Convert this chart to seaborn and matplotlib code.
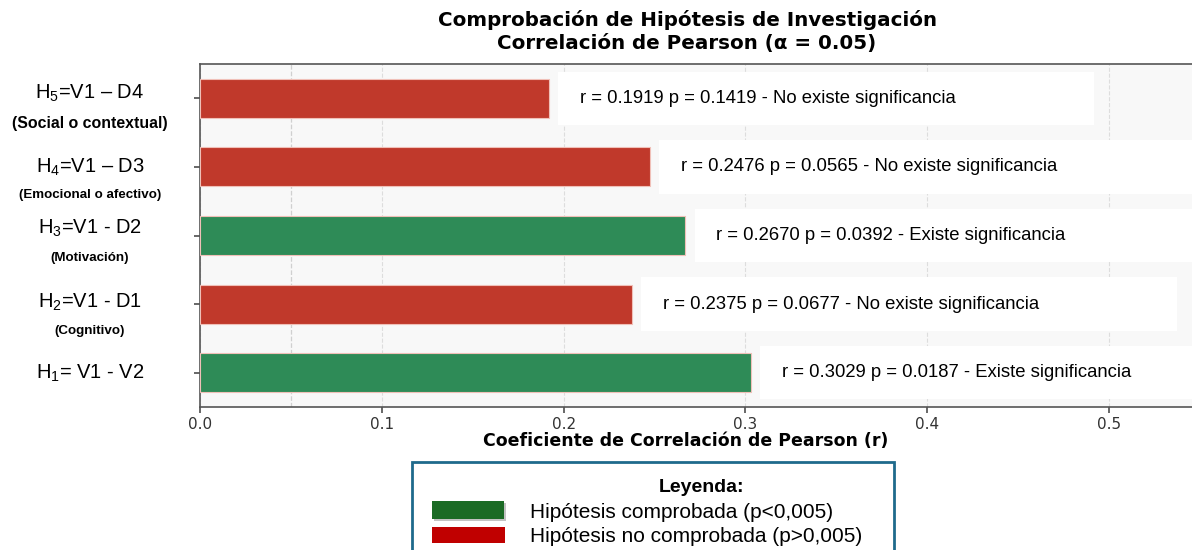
import matplotlib
matplotlib.use("Agg")
import matplotlib.pyplot as plt
import matplotlib.transforms as mtransforms
from matplotlib.patches import Rectangle
import seaborn as sns
import pandas as pd

# ---- data ----
hipotesis = ["H5", "H4", "H3", "H2", "H1"]
main_labels = [r"H$_{\mathregular{5}}$=V1 – D4", r"H$_{\mathregular{4}}$=V1 – D3",
               r"H$_{\mathregular{3}}$=V1 - D2", r"H$_{\mathregular{2}}$=V1 - D1",
               r"H$_{\mathregular{1}}$= V1 - V2"]
sub_labels = ["(Social o contextual)", "(Emocional o afectivo)", "(Motivación)", "(Cognitivo)", ""]
r_values = [0.1919, 0.2476, 0.2670, 0.2375, 0.3029]
p_values = [0.1419, 0.0565, 0.0392, 0.0677, 0.0187]
significancia = ["No existe significancia", "No existe significancia", "Existe significancia",
                 "No existe significancia", "Existe significancia"]
x_ticks = [0.0, 0.1, 0.2, 0.3, 0.4, 0.5]
alpha_level = 0.05

# label layout (pixels offsets from bar centre, font sizes)
main_dy = [-5, 0, -7, -2, 1]
sub_dy = [25, 28, 23, 27, 0]
sub_sizes = [11.4, 9.6, 9.6, 9.6, 9.6]

sns.set_theme(style="white")
plt.rcParams["font.family"] = ["DejaVu Sans"]
plt.rcParams["text.color"] = "black"
plt.rcParams["axes.labelcolor"] = "black"
plt.rcParams["mathtext.fontset"] = "custom"
plt.rcParams["mathtext.rm"] = "Liberation Sans"
plt.rcParams["mathtext.it"] = "Liberation Sans"

df = pd.DataFrame({"hip": hipotesis, "r": r_values, "p": p_values, "sig": significancia})
palette = {"Existe significancia": "#2e8b57", "No existe significancia": "#c0392b"}

fig = plt.figure(figsize=(11.92, 5.5), dpi=100)
ax = fig.add_axes([200 / 1192, 1 - 407 / 550, 1000 / 1192, (407 - 64) / 550])
ax.set_facecolor("#f8f8f8")

sns.barplot(data=df, y="hip", x="r", hue="sig", palette=palette, order=hipotesis,
            orient="h", width=0.57, dodge=False, legend=False, ax=ax, saturation=1,
            edgecolor="#f0c0b8", linewidth=0.8, zorder=3)

ax.set_xlim(0, 0.55)
ax.set_ylim(4.5, -0.5)
ax.set_xticks(x_ticks)
ax.set_xticklabels([f"{t:.1f}" for t in x_ticks], fontsize=11, color="#333333")
ax.set_yticks(range(len(hipotesis)))
ax.set_yticklabels([])
ax.tick_params(axis="both", which="both", length=4, color="#555555", direction="out",
               bottom=True, left=True, pad=3)
ax.grid(axis="x", linestyle="--", color="#dddddd", linewidth=0.8, zorder=0)
ax.grid(axis="y", visible=False)
ax.axvline(alpha_level, linestyle="--", color="#d0d0d0", linewidth=0.9, zorder=1)
for s in ["top", "left", "bottom", "right"]:
    ax.spines[s].set_color("#555555")
    ax.spines[s].set_linewidth(1.2)

ax.set_xlabel("Coeficiente de Correlación de Pearson (r)", fontsize=12.5, fontweight="bold")
ax.xaxis.set_label_coords((686 - 200) / 1000, -0.072)
ax.set_ylabel("")

# annotation boxes
for i, (r, p, s) in enumerate(zip(r_values, p_values, significancia)):
    ax.add_patch(Rectangle((r + 0.005, i - 0.39), 0.295, 0.78, facecolor="white",
                           edgecolor="none", zorder=4))
    ax.text(r + 0.017, i, f"r = {r:.4f} p = {p:.4f} - {s}", va="center", ha="left",
            fontsize=13.3, family="Liberation Sans", color="black", zorder=5)

# y labels
blend = mtransforms.blended_transform_factory(ax.transAxes, ax.transData)
for i, (m, sl) in enumerate(zip(main_labels, sub_labels)):
    tr_main = mtransforms.offset_copy(blend, fig=fig, x=0, y=-main_dy[i], units="dots")
    ax.text(-0.11, i, m, ha="center", va="center", fontsize=14.5, family="Liberation Sans",
            transform=tr_main, clip_on=False)
    if sl:
        tr_sub = mtransforms.offset_copy(blend, fig=fig, x=0, y=-sub_dy[i], units="dots")
        ax.text(-0.11, i, sl, ha="center", va="center", fontsize=sub_sizes[i], fontweight="bold",
                family="Liberation Sans", transform=tr_sub, clip_on=False)

# title
fig.text(687 / 1192, 1 - 20 / 550, "Comprobación de Hipótesis de Investigación",
         ha="center", va="center", fontsize=14.3, fontweight="bold")
fig.text(687 / 1192, 1 - 43 / 550, "Correlación de Pearson (α = 0.05)",
         ha="center", va="center", fontsize=14.3, fontweight="bold")

# legend box
W, H = 1192, 550
fig.patches.append(Rectangle((412 / W, 1 - 560 / H), (894 - 412) / W, (560 - 462) / H,
                             transform=fig.transFigure, facecolor="white",
                             edgecolor="#1f6a8c", linewidth=2, zorder=1))
fig.text(702 / W, 1 - 487 / H, "Leyenda:", ha="center", va="center", fontsize=14,
         fontweight="bold", family="Liberation Sans")
fig.patches.append(Rectangle((434 / W, 1 - 521 / H), 72 / W, 18 / H, transform=fig.transFigure,
                             facecolor="#888888", edgecolor="none", alpha=0.5, zorder=2))
fig.patches.append(Rectangle((432 / W, 1 - 519 / H), 72 / W, 18 / H, transform=fig.transFigure,
                             facecolor="#1b6b25", edgecolor="none", zorder=3))
fig.patches.append(Rectangle((432 / W, 1 - 543 / H), 73 / W, 16 / H, transform=fig.transFigure,
                             facecolor="#c00000", edgecolor="none", zorder=3))
fig.text(530 / W, 1 - 512 / H, "Hipótesis comprobada (p<0,005)", ha="left", va="center",
         fontsize=15, family="Liberation Sans")
fig.text(530 / W, 1 - 536 / H, "Hipótesis no comprobada (p>0,005)", ha="left", va="center",
         fontsize=15, family="Liberation Sans")

fig.savefig("out.png", dpi=100)
